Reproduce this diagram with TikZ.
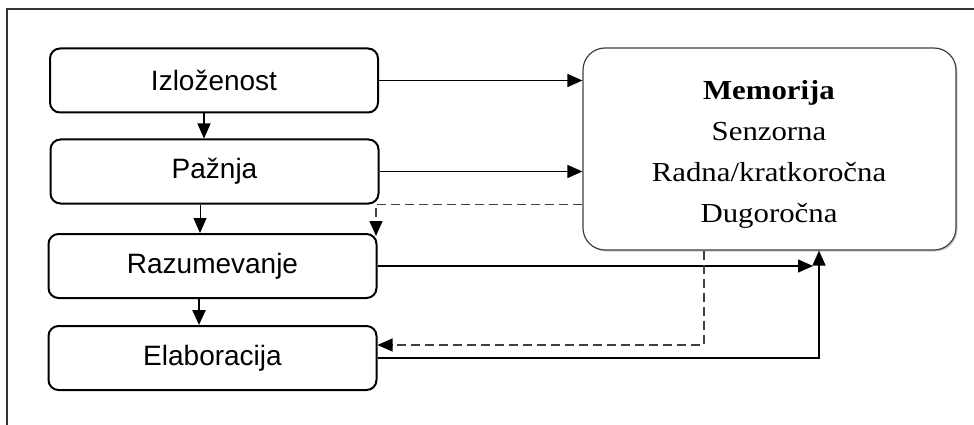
\documentclass[tikz,border=0pt]{standalone}
\usepackage{fontspec}
\setmainfont{Liberation Sans}
\newfontfamily\memfont[FakeStretch=1.12]{Liberation Serif}
\usetikzlibrary{arrows.meta,shadows}
\begin{document}
\begin{tikzpicture}[x=1pt,y=-1pt,
  stagebox/.style={draw=black,line width=2pt,rounded corners=10pt,minimum width=328pt,minimum height=64pt,inner sep=0pt,font=\fontsize{28}{32}\selectfont},
  membox/.style={draw=black!75,line width=1.2pt,rounded corners=22pt,minimum width=373pt,minimum height=202pt,inner sep=0pt,fill=white,
     drop shadow={shadow xshift=1.5pt,shadow yshift=-1.5pt,opacity=0.4}},
  conn/.style={line width=1.5pt,-{Triangle[length=15pt,width=13pt]}},
  dconn/.style={line width=1.3pt,draw=black!75,dash pattern=on 9pt off 5pt,-{Triangle[length=15pt,width=13pt,color=black,fill=black]}},
  frameline/.style={line width=1.5pt,draw=black!80}]
\useasboundingbox (0,0) rectangle (974,425);
\draw[frameline] (974,9) -- (7,9) -- (7,425);

\node[stagebox] (b1) at (214,80.5) {Izloženost};
\node[stagebox] (b2) at (214.5,171.5) {Pažnja};
\node[stagebox] (b3) at (212.5,266) {Razumevanje};
\node[stagebox] (b4) at (212.5,358) {Elaboracija};

\node[membox,align=center] (mem) at (769.5,149) {};
\node[font=\memfont\fontsize{27.5}{41}\selectfont,align=center] (memtext) at (769,154)
  {\textbf{Memorija}\\Senzorna\\Radna/kratkoročna\\Dugoročna};

\coordinate (jx) at (819,0);
\coordinate (dx) at (704,0);
\coordinate (vx) at (376,0);

% vertical flow
\draw[conn] (b1.south -| 204,0) -- (b2.north -| 204,0);
\draw[conn,line width=1pt] (b2.south -| 200,0) -- (b3.north -| 200,0);
\draw[conn,line width=2.5pt] (b3.south -| 199,0) -- (b4.north -| 199,0);

% to memory
\draw[conn] (b1.east) -- (b1.east -| mem.west);
\draw[conn] (b2.east) -- (b2.east -| mem.west);

% dashed memory -> razumevanje
\draw[dconn] (mem.west |- b2.south) -| ([yshift=-3pt]b3.north -| vx);

% razumevanje -> junction
\draw[conn] (b3.east) -- ([xshift=-6pt]b3.east -| jx);
% elaboracija -> memory
\draw[conn] (b4.east) -| (mem.south -| jx);

% dashed memory -> elaboracija
\draw[dconn] (mem.south -| dx) |- ([yshift=13pt]b4.east);
\end{tikzpicture}
\end{document}
